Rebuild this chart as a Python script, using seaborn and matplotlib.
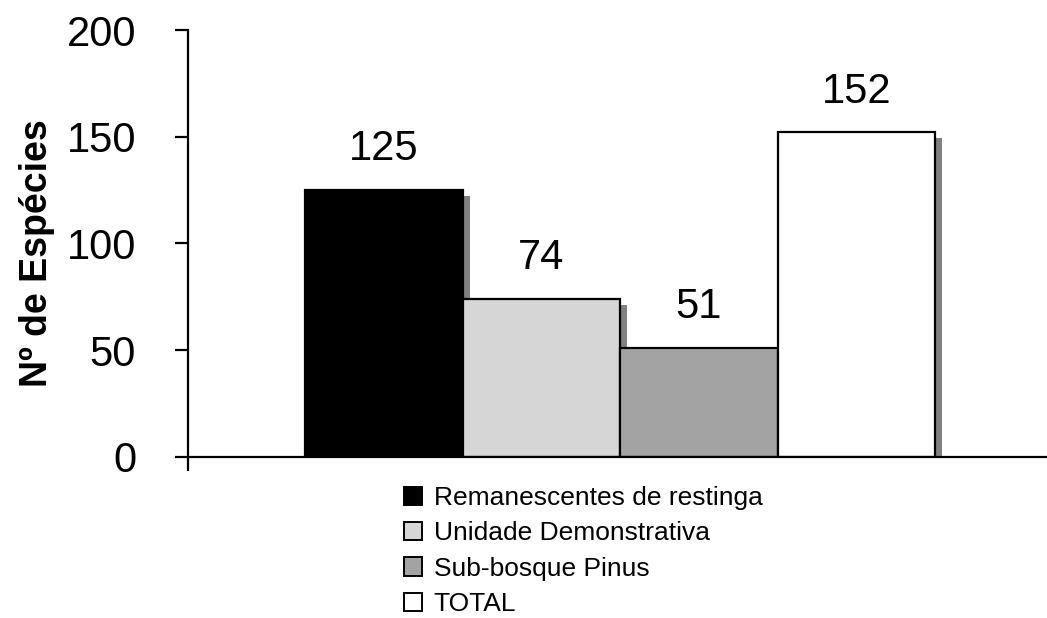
import matplotlib
matplotlib.use("Agg")
import matplotlib.pyplot as plt
import matplotlib.patheffects as pe
import seaborn as sns
import pandas as pd

# ---- data ----
categorias = ["Remanescentes de restinga", "Unidade Demonstrativa", "Sub-bosque Pinus", "TOTAL"]
n_especies = [125, 74, 51, 152]
cores = ["#000000", "#d6d6d6", "#a3a3a3", "#ffffff"]
y_ticks = [0, 50, 100, 150, 200]
y_label = "Nº de Espécies"

df = pd.DataFrame({"grupo": categorias, "n": n_especies})

sns.set_style("white")
plt.rcParams["font.family"] = ["Liberation Sans", "DejaVu Sans"]
plt.rcParams["text.color"] = "black"
plt.rcParams["axes.labelcolor"] = "black"
plt.rcParams["ytick.color"] = "black"
plt.rcParams["xtick.color"] = "black"

fig = plt.figure(figsize=(10.47, 6.18), dpi=100)
ax = fig.add_axes([188 / 1047, 1 - 457 / 618, 1 - 188 / 1047, (457 - 30) / 618])

sns.barplot(data=df, x="grupo", y="n", hue="grupo", palette=cores, order=categorias,
            hue_order=categorias, width=1.0, dodge=False, edgecolor="black",
            linewidth=1.6, saturation=1, legend=True, ax=ax)

shadow = [pe.SimplePatchShadow(offset=(5.2, -4.3), shadow_rgbFace="#808080", alpha=1.0), pe.Normal()]
for p in ax.patches:
    p.set_path_effects(shadow)

for cont in ax.containers:
    ax.bar_label(cont, padding=15, fontsize=30, color="black")

ax.set_ylim(0, 200)
ax.set_yticks(y_ticks)
ax.tick_params(axis="y", labelsize=30, length=9.4, width=1.6, direction="out", pad=28, left=True)
xl = -1.243
ax.set_xlim(xl, 4.211)
ax.set_xticks([xl])
ax.set_xticklabels([""])
ax.tick_params(axis="x", length=10, width=1.6, direction="out", bottom=True)
ax.set_xlabel("")
ax.set_ylabel(y_label, fontsize=27, fontweight="bold")
ax.yaxis.set_label_coords(-0.155, 0.478)

for s in ["top", "right"]:
    ax.spines[s].set_visible(False)
for s in ["left", "bottom"]:
    ax.spines[s].set_color("black")
    ax.spines[s].set_linewidth(1.6)

leg = ax.get_legend()
handles = leg.legend_handles
labels = [t.get_text() for t in leg.get_texts()]
leg.remove()
for h in handles:
    h.set_path_effects([])
    h.set_edgecolor("black")
    h.set_linewidth(1.4)
ax.legend(handles, labels, loc="upper left", bbox_to_anchor=(404 / 1047, 1 - 486 / 618),
          bbox_transform=fig.transFigure, frameon=False, fontsize=19, handlelength=0.68,
          handleheight=0.68, handletextpad=0.45, labelspacing=0.43, borderaxespad=0, borderpad=0)

fig.savefig("out.png", dpi=100)
